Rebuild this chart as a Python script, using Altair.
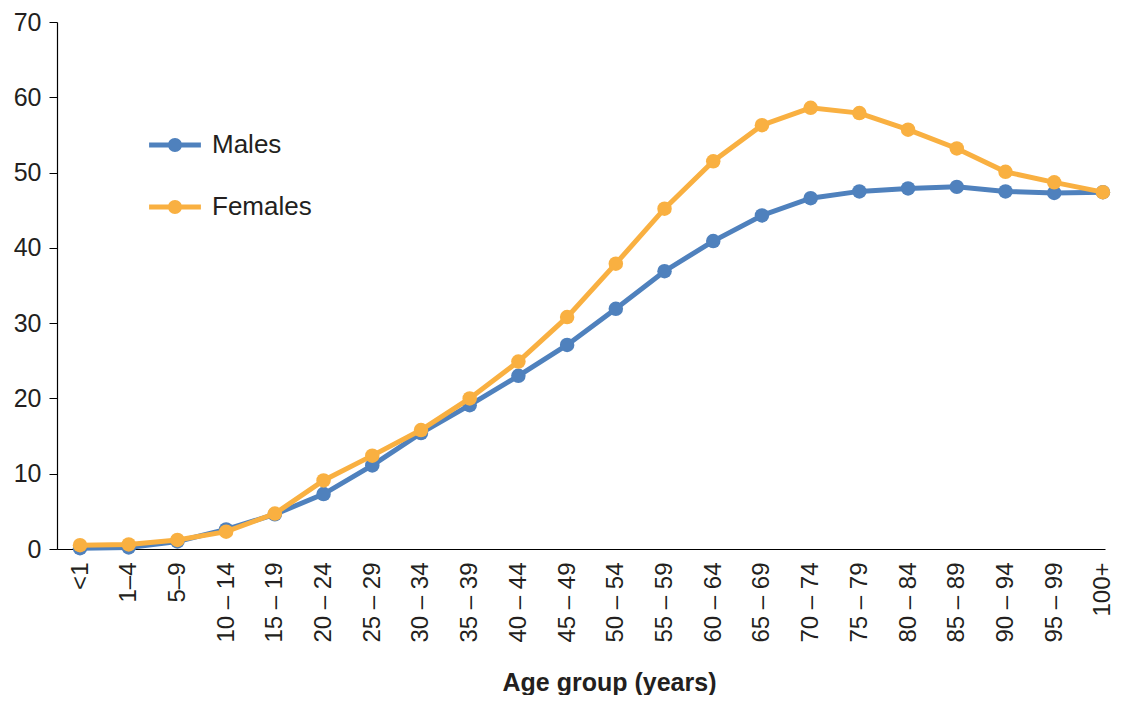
import altair as alt
import pandas as pd

age_groups = ["<1", "1–4", "5–9", "10 – 14", "15 – 19", "20 – 24", "25 – 29", "30 – 34",
              "35 – 39", "40 – 44", "45 – 49", "50 – 54", "55 – 59", "60 – 64", "65 – 69",
              "70 – 74", "75 – 79", "80 – 84", "85 – 89", "90 – 94", "95 – 99", "100+"]
males = [0.1, 0.2, 1.0, 2.6, 4.6, 7.3, 11.1, 15.4, 19.1, 23.0, 27.1, 31.9, 36.9, 40.9,
         44.3, 46.6, 47.5, 47.9, 48.1, 47.5, 47.3, 47.4]
females = [0.5, 0.6, 1.2, 2.3, 4.7, 9.1, 12.4, 15.8, 20.0, 24.9, 30.8, 37.9, 45.2, 51.5,
           56.3, 58.6, 57.9, 55.7, 53.2, 50.1, 48.7, 47.4]
series = ["Males", "Females"]
colors = ["#4F81BD", "#F9B041"]

df_m = pd.DataFrame({"age": age_groups, "value": males, "series": "Males"})
df_f = pd.DataFrame({"age": age_groups, "value": females, "series": "Females"})

FONT = "Liberation Sans"
TXT = "#231F20"

legend_symbol = ("M-3.7,-0.36 L3.7,-0.36 L3.7,0.36 L-3.7,0.36 Z "
                 "M1,0 A1,1 0 1,1 -1,0 A1,1 0 1,1 1,0 Z")

color_scale = alt.Scale(domain=series, range=colors)

x_enc = alt.X("age:N", sort=age_groups,
              scale=alt.Scale(type="point", padding=0.2575, align=0.917),
              axis=alt.Axis(title="Age group (years)", labelAngle=-90, labelAlign="right",
                            labelBaseline="middle", ticks=False, labelPadding=13,
                            labelFontSize=24, labelColor=TXT, labelFont=FONT,
                            domainColor="#000000", domainWidth=1.2,
                            titleFont=FONT, titleFontSize=25, titleFontWeight="bold",
                            titleColor=TXT, titleX=552, titleY=141,
                            titleBaseline="alphabetic", grid=False))
y_enc = alt.Y("value:Q", scale=alt.Scale(domain=[0, 70], nice=False),
              axis=alt.Axis(title=None, values=list(range(0, 71, 10)), tickSize=8,
                            tickColor="#000000", labelPadding=8, labelFontSize=25,
                            labelColor=TXT, labelFont=FONT, domainColor="#000000",
                            domainWidth=1.2, grid=False))


def layer(df):
    return alt.Chart(df).mark_line(
        strokeWidth=5,
        point=alt.OverlayMarkDef(size=210, filled=True, opacity=1),
    ).encode(
        x=x_enc,
        y=y_enc,
        color=alt.Color("series:N", scale=color_scale,
                        legend=alt.Legend(title=None, orient="none", legendX=105,
                                          legendY=110, symbolType=legend_symbol,
                                          symbolSize=196, symbolStrokeWidth=0,
                                          labelFontSize=26, labelFont=FONT,
                                          labelColor=TXT, labelOffset=24,
                                          rowPadding=36)),
    )


chart = alt.layer(layer(df_m), layer(df_f)).properties(
    width=1048, height=527,
    padding={"left": 49, "top": 14, "right": 10, "bottom": 146},
    autosize=alt.AutoSizeParams(type="none"),
).configure(background="white").configure_view(stroke=None, strokeWidth=0)

chart.save("out.html", embed_options={"renderer": "svg", "actions": False})
